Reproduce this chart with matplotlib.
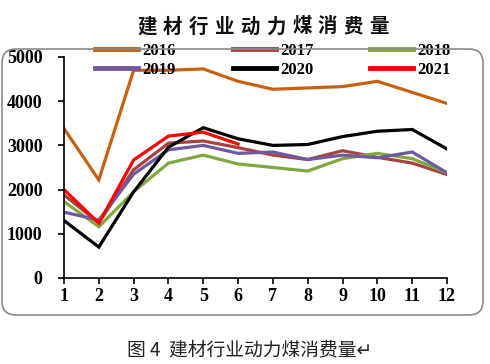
import numpy as np
import matplotlib.pyplot as plt
from matplotlib.patches import FancyBboxPatch
from matplotlib.transforms import IdentityTransform

plt.rcParams['font.family'] = ['Noto Sans CJK SC', 'DejaVu Sans']

months = list(range(1, 13))
years = ['2016', '2017', '2018', '2019', '2020', '2021']
colors = ['#C8600F', '#A8423F', '#7FA83E', '#7059A0', '#000000', '#FF0000']

v2016 = [3380, 2220, 4700, 4700, 4730, 4450, 4270, 4300, 4330, 4450, 4200, 3950]
v2017 = [1880, 1250, 2450, 3050, 3100, 2950, 2780, 2680, 2880, 2730, 2600, 2340]
v2018 = [1730, 1160, 1950, 2600, 2780, 2580, 2500, 2420, 2700, 2820, 2700, 2380]
v2019 = [1490, 1310, 2350, 2900, 3000, 2820, 2850, 2680, 2780, 2720, 2850, 2380]
v2020 = [1300, 700, 1950, 2960, 3400, 3150, 3000, 3020, 3200, 3320, 3360, 2920]
v2021 = [2000, 1240, 2670, 3210, 3300, 3030]
series = [v2016, v2017, v2018, v2019, v2020, v2021]

fig = plt.figure(figsize=(4.9, 3.64), dpi=100)

# rounded frame round the chart
frame = FancyBboxPatch((2, 49), 481, 266, boxstyle='round,pad=0,rounding_size=14',
                       transform=IdentityTransform(), fill=False,
                       edgecolor='#8a8a8a', linewidth=1.2)
fig.patches.append(frame)

ax = fig.add_axes([64/490, 1-278/364, (447-64)/490, (278-57)/364])
lines = []
for yr, vals, c in zip(years, series, colors):
    ln, = ax.plot(months[:len(vals)], vals, color=c, lw=2.3, label=yr,
                  solid_joinstyle='miter')
    lines.append(ln)

ax.set_xlim(1, 12)
ax.set_ylim(0, 5000)
ax.set_xticks(months)
ax.set_yticks(range(0, 5001, 1000))
for s in ['top', 'right']:
    ax.spines[s].set_visible(False)
for s in ['left', 'bottom']:
    ax.spines[s].set_linewidth(1.2)
ax.tick_params(axis='y', direction='out', length=4.5, width=1.2, pad=11)
ax.tick_params(axis='x', direction='out', length=4, width=1.2, pad=3)
for lab in ax.get_yticklabels() + ax.get_xticklabels():
    lab.set_fontfamily('Liberation Serif')
    lab.set_fontweight('bold')
    lab.set_fontsize(13)

# legend: rows 2016-2018 / 2019-2021
order = [0, 3, 1, 4, 2, 5]
leg = ax.legend([lines[i] for i in order], [years[i] for i in order], ncol=3,
                loc='upper left', bbox_to_anchor=(95/490, 1-43/364),
                bbox_transform=fig.transFigure, frameon=False,
                prop={'family': 'Liberation Serif', 'weight': 'bold', 'size': 12},
                handlelength=2.6, handletextpad=0.25, columnspacing=3.4,
                labelspacing=0.2, borderpad=0, borderaxespad=0)
for h in leg.legend_handles:
    h.set_linewidth(3.5)

# title with wide letter spacing
title = '建材行业动力煤消费量'
for i, ch in enumerate(title):
    fig.text((147 + i*25.8)/490, 1-27/364, ch, fontsize=14, fontweight='bold',
             ha='center', va='center', color='#111111')

fig.text(250/490, 1-350/364, '图 4  建材行业动力煤消费量↵', fontsize=13.5,
         ha='center', va='center', color='#222222')

fig.savefig('out.png', dpi=100)
